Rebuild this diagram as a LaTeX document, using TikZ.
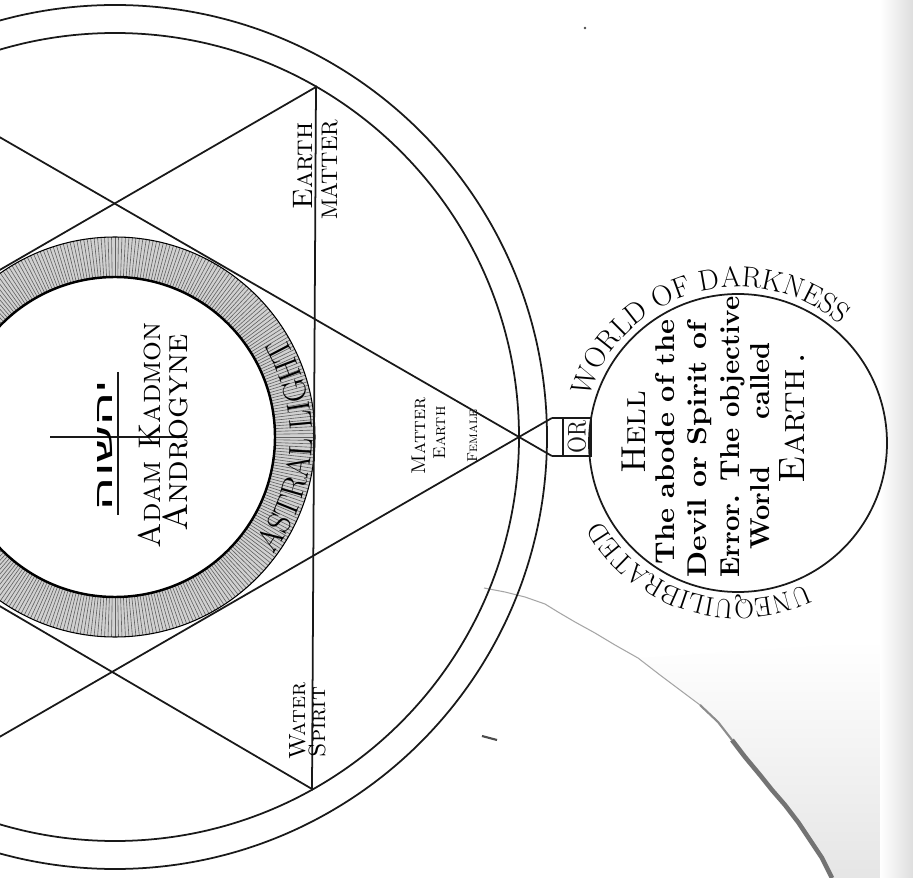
\documentclass[tikz,border=0pt]{standalone}
\usepackage{fontspec}
\usetikzlibrary{decorations.text,calc}
\newfontfamily\hebfont[Script=Hebrew]{Liberation Sans}
\TeXXeTstate=1
\newlength\pxu
\setlength\pxu{0.02cm}
\newcommand\fitw[2]{\resizebox{#1\pxu}{!}{#2}}
\newcommand\fitwh[3]{\resizebox{#1\pxu}{#2\pxu}{#3}}
\begin{document}
\begin{tikzpicture}[x=0.02cm,y=0.02cm,
  lbl/.style={rotate=90,inner sep=0pt,outer sep=0pt,anchor=base},
  ink/.style={line width=1pt,black!90},
  hatch/.style={line width=0.35pt,black!62}]
\useasboundingbox (0,0) rectangle (913,-878);
\clip (0,0) rectangle (913,-878);
\fill[white] (0,0) rectangle (913,-878);
% ---- paper edge and tear ----
\shade[top color=white,bottom color=black!10] (640,-658) -- (660,-675) -- (680,-690) -- (700,-705) -- (718,-722) -- (732,-740) -- (745,-757) -- (760,-775) -- (772,-790) -- (785,-805) -- (798,-822) -- (810,-840) -- (822,-858) -- (832,-878) -- (913,-878) -- (913,-640) -- cycle;
\shade[left color=white,right color=black!13] (880,0) rectangle (913,-878);
\draw[black!35,line width=0.6pt] (484,-588) -- (505,-592) -- (525,-597) -- (545,-604) -- (558,-612) -- (575,-622) -- (595,-633) -- (615,-645) -- (638,-658) -- (660,-675) -- (680,-690) -- (700,-705) -- (718,-722);
\draw[black!45,line width=1.2pt] (700,-705) -- (718,-722) -- (732,-740);
\draw[black!55,line width=2.6pt] (732,-740) -- (745,-757) -- (760,-775) -- (772,-790) -- (785,-805) -- (798,-822) -- (810,-840) -- (822,-858) -- (832,-878);
\fill[black!70] (585,-28) circle (1.3);
\draw[black!70,line width=1.2pt] (482,-736) -- (497,-740);
% ---- great double circle ----
\coordinate (O) at (115,-437);
\draw[ink] (O) circle (432);
\draw[ink] (O) circle (404);
% ---- astral light ring ----
\fill[black!18,even odd rule] (O) circle (200) (O) circle (160);
\foreach \a in {0,1,...,359} \draw[hatch] (O) ++(\a:160) -- ++(\a:40);
\draw[line width=1.4pt] (O) circle (160);
\draw[line width=0.6pt] (O) circle (200);
\path[decorate,decoration={text along path,text align=center,
  text={|\fontsize{18.5}{18.5}\selectfont|ASTRAL LIGHT}}]
  (O) ++(-70:197) arc (-70:64:197);
% ---- hexagram ----
\coordinate (A0) at ($(O)+(0:404)$);
\coordinate (A120) at ($(O)+(120:404)$);
\coordinate (A240) at ($(O)+(240:404)$);
\coordinate (B60) at (316,-87);
\coordinate (B180) at ($(O)+(180:404)$);
\coordinate (B300) at (312,-789);
\coordinate (P1) at ($(A240)!1.054!(A0)$);
\coordinate (P2) at ($(A120)!1.054!(A0)$);
\draw[ink] (A120) -- (P2);
\draw[ink] (A240) -- (P1);
\draw[ink] (A120) -- (A240);
\draw[ink] (B60) -- (B300) -- (B180) -- cycle;
% ---- cross with the divine name ----
\coordinate (cx1) at (50,-437);
\coordinate (cx2) at (187,-437);
\coordinate (cy1) at (118,-372);
\coordinate (cy2) at (118,-515);
\draw[ink] (cx1) -- (cx2);
\draw[ink] (cy1) -- (cy2);
\node[lbl] (heb) at (112,-445) {\fitwh{130}{15}{\hebfont\beginR יהשוה\endR}};
\node[lbl] (adam) at (160,-435) {\fitw{226}{\textsc{Adam Kadmon}}};
\node[lbl] (andro) at (187,-433) {\fitw{197}{\textsc{Androgyne}}};
% ---- labels on the hexagram ----
\node[lbl] (earthT) at (312,-166) {\fitw{87}{\textsc{Earth}}};
\node[lbl] (matterT) at (337,-170) {\fitw{100}{MATTER}};
\node[lbl] (water) at (305,-721) {\fitw{77}{\textsc{Water}}};
\node[lbl] (spirit) at (325,-722) {\fitw{70}{\textsc{Spirit}}};
\node[lbl] (matS) at (425,-436) {\fitw{77}{\textsc{Matter}}};
\node[lbl] (earS) at (445,-433) {\fitw{53}{\textsc{Earth}}};
\node[lbl] (femS) at (477,-436) {\fitw{53}{\textsc{Female}}};
% ---- hell ----
\coordinate (H) at (738,-443);
\draw[ink] (H) circle (149);
\coordinate (Q1) at (591,-418);
\coordinate (Q2) at (590,-456);
\draw[ink] (P1) -- (Q1);
\draw[ink] (P2) -- (Q2);
\node[draw,ink,rotate=90,inner sep=0pt,minimum width=0.76cm,minimum height=0.56cm] (orbox) at (577,-437) {\fitwh{33}{18}{OR}};
\path[decorate,decoration={text along path,text align=center,
  text={|\fontsize{16.5}{17}\selectfont|WORLD OF DARKNESS}}]
  (H) ++(178:156) arc (178:34:156);
\path[decorate,decoration={text along path,text align=center,
  text={|\fontsize{15.5}{16}\selectfont|UNEQUILIBRATED}}]
  (H) ++(-40:157) arc (-40:-175:157);
\node[lbl] (hell) at (645,-432) {\fitw{83}{\textsc{Hell}}};
\node[lbl] (l1) at (674,-442) {\fitwh{245}{19}{\bfseries The abode of the}};
\node[lbl] (l2) at (706,-450) {\fitwh{255}{19}{\bfseries Devil or Spirit of}};
\node[lbl] (l3) at (739,-437) {\fitwh{281}{19}{\bfseries Error. The objective}};
\node[lbl] (l4) at (769,-446) {\fitwh{207}{19}{\bfseries World\hspace{1.8em}called}};
\node[lbl] (l5) at (804,-418) {\fitw{130}{\textsc{Earth}\,.}};
\end{tikzpicture}
\end{document}
